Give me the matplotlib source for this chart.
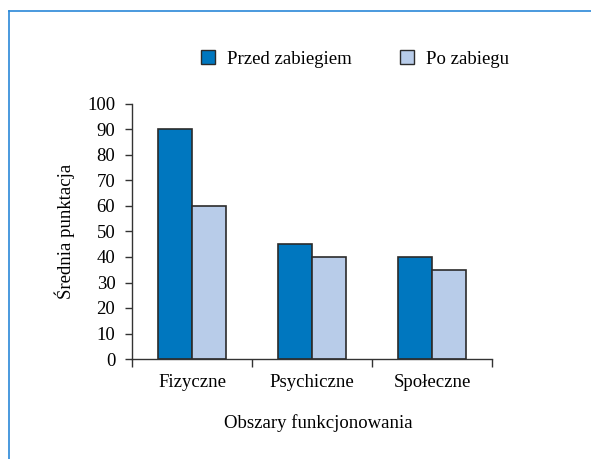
import matplotlib
matplotlib.use("Agg")
import matplotlib.pyplot as plt
from matplotlib.lines import Line2D
import numpy as np

plt.rcParams['font.family'] = ['Liberation Serif', 'DejaVu Serif']

categories = ["Fizyczne", "Psychiczne", "Społeczne"]
series_names = ["Przed zabiegiem", "Po zabiegu"]
przed = [90, 45, 40]
po = [60, 40, 35]
yticks = [0, 10, 20, 30, 40, 50, 60, 70, 80, 90, 100]

c_dark = "#0077bf"
c_light = "#b8cce9"
edge = "#2b2b2b"
fs = 13.5

fig = plt.figure(figsize=(5.91, 4.59), dpi=100)
ax = fig.add_axes([132/591, 1-359/459, 360/591, 255/459])

x = np.arange(len(categories))
w = 0.285
ax.bar(x - w/2, przed, w, color=c_dark, edgecolor=edge, linewidth=1.2, label=series_names[0])
ax.bar(x + w/2, po, w, color=c_light, edgecolor=edge, linewidth=1.2, label=series_names[1])

ax.set_xlim(-0.5, len(categories) - 0.5)
ax.set_ylim(0, 100)
ax.set_yticks(yticks)
ax.set_xticks(np.arange(len(categories) + 1) - 0.5)
ax.set_xticklabels([])
ax.set_xticks(x, minor=True)
ax.set_xticklabels(categories, minor=True)
ax.tick_params(axis='x', which='minor', length=0, pad=11, labelsize=fs)
ax.tick_params(axis='x', which='major', direction='out', length=6, width=1, color="#333333")
ax.tick_params(axis='y', direction='out', length=5, width=1, color="#333333", labelsize=fs, pad=7)
for s in ['top', 'right']:
    ax.spines[s].set_visible(False)
for s in ['left', 'bottom']:
    ax.spines[s].set_color("#333333")
    ax.spines[s].set_linewidth(1)

ax.set_ylabel("Średnia punktacja", fontsize=fs)
ax.yaxis.set_label_coords((75 - 132) / 360, 0.5)
fig.text(318/591, 1-423/459, "Obszary funkcjonowania", fontsize=fs, ha='center', va='center')

handles = [plt.Rectangle((0, 0), 1, 1, facecolor=c_dark, edgecolor=edge, linewidth=1),
           plt.Rectangle((0, 0), 1, 1, facecolor=c_light, edgecolor=edge, linewidth=1)]
fig.legend(handles, series_names, loc='center', bbox_to_anchor=(355/591, 1-59/459),
           ncol=2, frameon=False, fontsize=fs, handlelength=0.75, handleheight=0.75,
           columnspacing=2.6, handletextpad=0.64, borderpad=0, borderaxespad=0)

frame_c = "#2a88d8"
fig.add_artist(Line2D([9/591, 9/591], [0, 1-11/459], color=frame_c, lw=1.2, transform=fig.transFigure))
fig.add_artist(Line2D([9/591, 1], [1-11/459, 1-11/459], color=frame_c, lw=1.2, transform=fig.transFigure))

fig.savefig("out.png", dpi=100)
